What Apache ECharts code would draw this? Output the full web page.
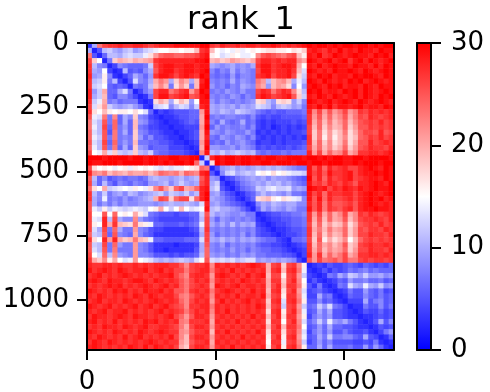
<!DOCTYPE html>
<html>
<head>
<meta charset="utf-8">
<title>rank_1</title>
<script src="https://cdn.jsdelivr.net/npm/echarts@6/dist/echarts.min.js"></script>
<style>
  html, body { margin: 0; background: #fff; }
  #chart { width: 490px; height: 392px; }
</style>
</head>
<body>
<div id="chart"></div>
<script>
// tick labels of the two axes and the colour bar
const xTicks = [0, 500, 1000]
const yTicks = [0, 250, 500, 750, 1000]
const barTicks = [0, 10, 20, 30]
const axisMax = 1195

// distance values read by eye, one char per cell in base 31 (0..9, a..u = 0..30)
// groups in a row: first block, second block lead in, strip, third block, last block
const rows = [
  '3anqrrsrrssrq rsssttttt uu rqsrrsrssrsstsrsrst utuututuutuututuu',
  'a25bca9bc9acd effggfggj rs jfefegefgfghhggfhgi stsrtsustsuttsutt',
  'n526bbacdcceh loppooppq st gfdegfeefmpqponpqjg tsursutstuttsutus',
  'qif27ikjikjkl rssssssst tu jkijlkjikqssrsrssmk utstusturtusutstu',
  'rb8724876667c qsttsstts tt a989a898arttrsttskf tsustuttsuttsusut',
  'ra9f423b5658a psttrstts tu 8687a7987qttrsstrjd utstsuttutsutstut',
  's9ag83246a869 rttsqstsr ut 767696887rstqsstqhc tsutusttsutuutsut',
  'rbcg7b425d87a knlaimkaj su 8787a7987nlbjlmjaeb utsutstsutustutst',
  'rcdf65652767b jmj7hli7j tu 978687a98mk9jlkh8f9 tutsutusttsutsutt',
  's9ck66ad72479 qssnprslp ut 787987977qsrnqsrmhb utusttsutusutstut',
  'sacj658864237 qttqrstpq tu 878798687rtsqrstpic tsutsutstusutsutu',
  'rcek786777323 hkiagjh9f tt 979878789hib9hih9c8 utstustutsutstuts',
  'qdhlca9ab9732 cde8bdc8c st a9a9a8a9adcb8bcb9a7 tsusurttstusttsut',
  'rhfjgfggfhfd6 243455566 lt a9ba9cba97656556667 smqlplnqlnrqsrsrs',
  'pedn7m6a8i874 323345566 ku 7878877685454455556 rlpkokmpknqpsrqrs',
  'ndbp7o6a6j985 432334565 kt 86a767a674343444545 rkojnjlojmpqrqsqr',
  'nebq6o796j764 433233444 lu 6978778684342343434 qjoimjkoilpprqrqr',
  'odbp5n7a6i875 543323345 kt 9879877973434343445 qinhlhjnhkoqqpspq',
  'oecp7n787i968 554332345 ks 7698798684343434343 ringlgjmhjoprqsqr',
  'pdbq6o797j776 655433234 lt 6769789763443434445 rjoimhjnhkppsqrsr',
  'oebp7n6a6i985 666444323 ku 9988979874545445456 qkojmikoilpqsrrqs',
  'qfekdicbcibac 766555432 mt bacabcbab7676676777 slqkolmqkmrrssrst',
  'uuutuuuutuutu uttuuttuu 2c sutuutuututuuttuuut uututuuttuutuuuut',
  'uttuuutuuuutu ututuutuo c2 hutuutuuttuutuuutuu tuutuuuttutuuutuu',
  'qhfgfefgegfgf ededeefgh on 259ab9a9abababa9877 tpsosqrsqqstutsut',
  'smlnjlkjlkklj lonmnkonm st 528cdabcbfgfhfgeddc tqsptrrstqsttutut',
  'pb6856767767a baa9ab9ab ps 98245789a9a8a998765 upsosqrstqrsttsut',
  'qa6b758768769 9ab8aca9a qs ac4235789a9bab9a876 tqrpsrqsrpsstutsu',
  'ohfkcdefegfeh mplioqklo st bd5324678cbdeccd9a9 utstqsrtsrtstuttu',
  'rb8c79a8ba89a bc9cbac9b su 9a75423569b9a98a776 tqsosrrssqstutstu',
  'ra8e7879789ab kqpioqqho su a98653246hijgfhged8 tptosqqrsqstutust',
  'pa79797988999 89abaaba9 ds 9a87654238a9ba9aa88 spsnrppqrpstutsts',
  'pecgcedcdedcf gkfcfjfde ft bcaa986426a8a98a977 tpsnrqprspsttutts',
  'qffpfofgfkgd7 655545566 cp b9a9889772345566778 rlqkokmqkmrqsrqrs',
  'qedsbqa88m976 544444456 bq 9698787873234455667 rkpjoklpjmqrrsrqs',
  'qgfskrjihnhge 665556567 eq a8a8b8a9a4323445667 qjoilijnhkpqrqsqr',
  'qdaq7oa77l875 443333345 br 8787878785432334556 rknjnkloilqprrqsr',
  'ocbp6p876k865 333333334 aq 9687879685443234456 rjoimjkoilqqsrrqs',
  'rhfslskijnjie 665555666 dq a9b9a8a9a8766432667 qipgkhjmfjoqrqrqr',
  'pcbq7o977l875 333323334 ap 8796878786554432345 rjokmjlpikqrsrrsr',
  'pdbp7n777l875 332333335 ao 8787978687665543234 rkojmkloilqqsrrqs',
  'qfdobm987l887 555454556 bo 9897879897766655424 slrkolnqkmrrssrsr',
  'rkimgkfdelfed bababcbad fp dcdcdbcdd9a9a9a9842 plqnopnqnnqrqrrqr',
  'srrssrsrrsrsr sssrrpmqr rs msrsrsrstsrkqriqrmg 23435445654654546',
  'trstsrtsrsstr strsqqnqr ss nrsrtrsrsrskrsjrsne 32353545767867666',
  'rstrsrstsrsrs rsstqomrs sr lstsrsrtrstjqqgqrlc 432376a8cb9c99a89',
  'stsrtssrsttsr tsrsrpnqs rs mrsrsrtsrsrkrriqsmf 35323465977866756',
  'rsrststrsrsts rstrspnqr sr ltsrstrssrskqsjrrng 53732376da9ea9c89',
  'tsrsrtstrsrts strsppnrs rs nrstsrsrtrsjrshqsld 45643234755965745',
  'srtsrsrsrtsrt srssqnmpr sr msrsrtrssrtkqrgrrme 44a67323655865756',
  'rstrssrtsrsrs tsrsromqs rs lrtrsrstrsrirsdrsng 55856432444a57856',
  'tsrstrsrstrst rstrqpmrr ss nsrsrsrsrtsjqrcqrlc 67c9d764233755857',
  'srstrsstrsrsr strsrqnqs rs msrtrsrsrsrhrsgqsme 56a7a554323544645',
  'rtssrstsrtssr srstqolps sr lrsrsrsrtrsjqshrrlg 47979554332334545',
  'strsrtrsrsrts trsrsnmrr rs ksrsrtrsrsrhrrfqsmd 68c8e98a753235a58',
  'rsrtssrtsrstr rssrqnkqs sr lrsrsrsrsrsjqsjrrnf 5696a665543323545',
  'tsrsrtsrsrtsr stsrrmlpr rs jsrtrsrsrtrhrrhqrmd 47969557544532479',
  'srtsrsrtrstrs rsrtqmjqs sr lrsrsrtrsrsgqsgrsle 56a7c778865a54236',
  'rtsrtsrsrsrst srsrrljpr rs ksrsrsrsrsrfrreqrmc 46968555544547323',
  'stsrsrsrtsrtr tsrsqkiqs sr lrsrtrsrsrsgqsgrsng 66a6a666755959632'
]

const cells = rows.map((_, i) => i)
const cellData = []
rows.forEach((row, r) => {
  row.replace(/ /g, '').split('').forEach((c, col) => cellData.push([col, r, parseInt(c, 31)]))
})

const FONT = 'DejaVu Sans'
const line = { show: true, onZero: false, lineStyle: { color: '#000', width: 2 } }
const tick = { show: true, length: 10, lineStyle: { color: '#000', width: 2 } }
const label = { show: true, color: '#000', fontFamily: FONT, fontSize: 26, formatter: v => String(v) }

// plain frame side without ticks or labels
const frame = (gridIndex, position, min, max) => ({
  type: 'value', gridIndex, position, min, max, z: 10,
  splitLine: { show: false }, axisLine: line,
  axisTick: { show: false }, axisLabel: { show: false }
})

const myChart = echarts.init(document.getElementById('chart'), null, { renderer: 'canvas' })

myChart.setOption({
  animation: false,
  backgroundColor: '#fff',
  title: {
    text: 'rank_1', left: 236, top: 0, textAlign: 'center',
    textStyle: { fontFamily: FONT, fontSize: 32, fontWeight: 'normal', color: '#000' }
  },
  grid: [
    { left: 87, top: 43, width: 307, height: 307, outerBoundsMode: 'none' },
    { left: 417, top: 43, width: 14, height: 307, outerBoundsMode: 'none' }
  ],
  xAxis: [
    { type: 'category', data: cells, show: false, gridIndex: 0 },
    {
      type: 'value', gridIndex: 0, position: 'bottom', min: 0, max: axisMax, z: 10,
      splitLine: { show: false }, axisLine: line,
      axisTick: { ...tick, customValues: xTicks },
      axisLabel: { ...label, margin: 19, customValues: xTicks }
    },
    frame(0, 'top', 0, axisMax),
    frame(1, 'bottom', 0, 1),
    frame(1, 'top', 0, 1)
  ],
  yAxis: [
    { type: 'category', data: cells, inverse: true, show: false, gridIndex: 0 },
    {
      type: 'value', gridIndex: 0, position: 'left', inverse: true, min: 0, max: axisMax, z: 10,
      splitLine: { show: false }, axisLine: line,
      axisTick: { ...tick, customValues: yTicks },
      axisLabel: { ...label, margin: 18, padding: [4, 0, 0, 0], customValues: yTicks }
    },
    frame(0, 'right', 0, axisMax),
    frame(1, 'left', 0, 30),
    {
      type: 'value', gridIndex: 1, position: 'right', min: 0, max: 30, z: 10,
      splitLine: { show: false }, axisLine: line,
      axisTick: { ...tick, customValues: barTicks },
      axisLabel: { ...label, margin: 20, padding: [4, 0, 0, 0], customValues: barTicks }
    }
  ],
  visualMap: {
    type: 'continuous', show: true, min: 0, max: 30, seriesIndex: 0,
    left: 417, top: 43, itemWidth: 14, itemHeight: 307, padding: 0,
    calculable: false, hoverLink: false, text: null, showLabel: false,
    inRange: { color: ['#0000ff', '#ffffff', '#ff0000'] }
  },
  series: [{
    type: 'heatmap',
    xAxisIndex: 0,
    yAxisIndex: 0,
    data: cellData,
    itemStyle: { borderWidth: 0 },
    emphasis: { disabled: true }
  }]
})
</script>
</body>
</html>
